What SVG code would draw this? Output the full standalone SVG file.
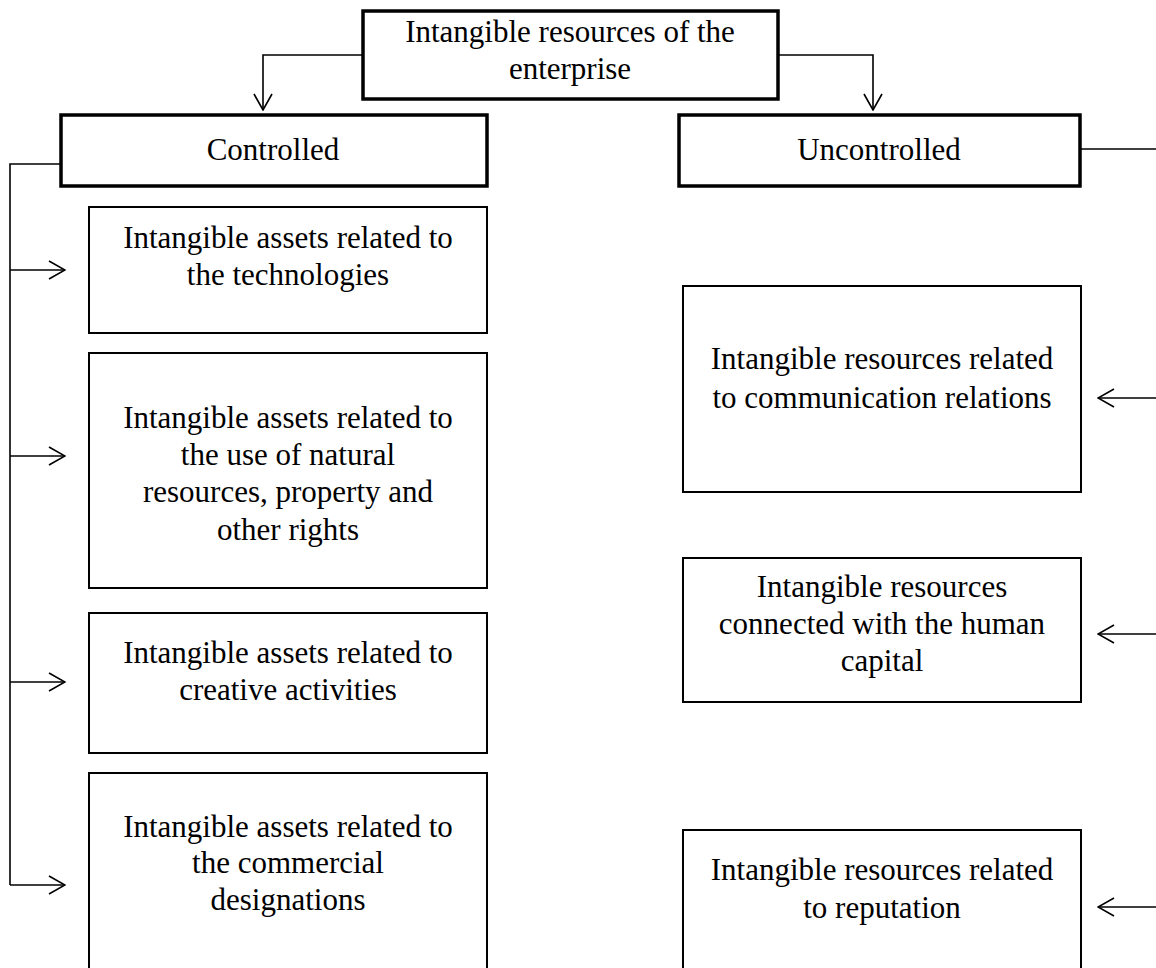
<svg xmlns="http://www.w3.org/2000/svg" width="1156" height="968" viewBox="0 0 1156 968">
<style>
  .bg { fill: #ffffff; }
  .box { fill: #ffffff; stroke: #000; stroke-width: 2; }
  .boxb { fill: #ffffff; stroke: #000; stroke-width: 3.5; }
  .t { font-family: "Liberation Serif", "Times New Roman", serif; font-size: 31px; fill: #000; text-anchor: middle; }
  .c { fill: none; stroke: #000; stroke-width: 1.6; }
</style>
<defs>
  <marker id="arr" viewBox="0 0 18 20" refX="17" refY="10" markerWidth="18" markerHeight="20" markerUnits="userSpaceOnUse" orient="auto">
    <path d="M1,1 L17,10 L1,19" fill="none" stroke="#000" stroke-width="1.6"/>
  </marker>
</defs>
<rect class="bg" x="0" y="0" width="1156" height="968"/>

<g id="connectors">
  <polyline class="c" points="363,55 263,55 263,110" marker-end="url(#arr)"/>
  <polyline class="c" points="778,55 873,55 873,110" marker-end="url(#arr)"/>
  <polyline class="c" points="60,164 10,164 10,885"/>
  <line class="c" x1="10" y1="270" x2="65" y2="270" marker-end="url(#arr)"/>
  <line class="c" x1="10" y1="456" x2="65" y2="456" marker-end="url(#arr)"/>
  <line class="c" x1="10" y1="682" x2="65" y2="682" marker-end="url(#arr)"/>
  <line class="c" x1="10" y1="885" x2="65" y2="885" marker-end="url(#arr)"/>
  <polyline class="c" points="1080,149 1162,149 1162,907"/>
  <line class="c" x1="1162" y1="398" x2="1098" y2="398" marker-end="url(#arr)"/>
  <line class="c" x1="1162" y1="634" x2="1098" y2="634" marker-end="url(#arr)"/>
  <line class="c" x1="1162" y1="907" x2="1098" y2="907" marker-end="url(#arr)"/>
</g>

<g id="root">
  <rect class="boxb" x="363" y="11" width="415" height="88"/>
  <text class="t" x="570" y="42">Intangible resources of the</text>
  <text class="t" x="570" y="79">enterprise</text>
</g>

<g id="controlled">
  <rect class="boxb" x="61" y="115" width="426" height="71"/>
  <text class="t" x="273" y="160">Controlled</text>
</g>

<g id="uncontrolled">
  <rect class="boxb" x="679" y="115" width="401" height="71"/>
  <text class="t" x="879" y="160">Uncontrolled</text>
</g>

<g id="tech">
  <rect class="box" x="89" y="207" width="398" height="126"/>
  <text class="t" x="288" y="248">Intangible assets related to</text>
  <text class="t" x="288" y="285">the technologies</text>
</g>

<g id="natural">
  <rect class="box" x="89" y="353" width="398" height="235"/>
  <text class="t" x="288" y="428">Intangible assets related to</text>
  <text class="t" x="288" y="465">the use of natural</text>
  <text class="t" x="288" y="502">resources, property and</text>
  <text class="t" x="288" y="540">other rights</text>
</g>

<g id="creative">
  <rect class="box" x="89" y="613" width="398" height="140"/>
  <text class="t" x="288" y="663">Intangible assets related to</text>
  <text class="t" x="288" y="700">creative activities</text>
</g>

<g id="commercial">
  <rect class="box" x="89" y="773" width="398" height="205"/>
  <text class="t" x="288" y="837">Intangible assets related to</text>
  <text class="t" x="288" y="873">the commercial</text>
  <text class="t" x="288" y="910">designations</text>
</g>

<g id="communication">
  <rect class="box" x="683" y="286" width="398" height="206"/>
  <text class="t" x="882" y="369">Intangible resources related</text>
  <text class="t" x="882" y="408">to communication relations</text>
</g>

<g id="human">
  <rect class="box" x="683" y="558" width="398" height="144"/>
  <text class="t" x="882" y="597">Intangible resources</text>
  <text class="t" x="882" y="634">connected with the human</text>
  <text class="t" x="882" y="671">capital</text>
</g>

<g id="reputation">
  <rect class="box" x="683" y="830" width="398" height="148"/>
  <text class="t" x="882" y="880">Intangible resources related</text>
  <text class="t" x="882" y="918">to reputation</text>
</g>
</svg>
